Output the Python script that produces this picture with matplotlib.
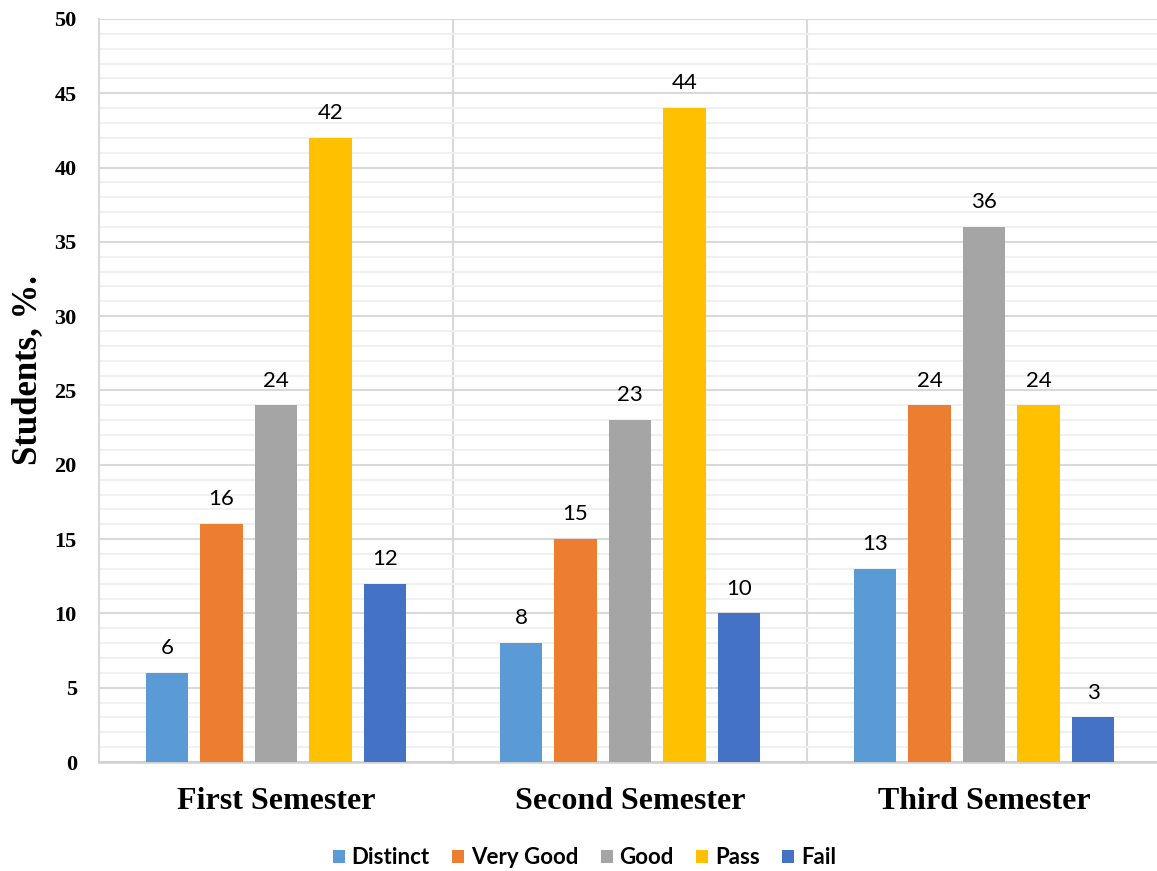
import numpy as np
import matplotlib.pyplot as plt
from matplotlib.ticker import MultipleLocator

semesters = ["First Semester", "Second Semester", "Third Semester"]
grades = ["Distinct", "Very Good", "Good", "Pass", "Fail"]
distinct = [6, 8, 13]
very_good = [16, 15, 24]
good = [24, 23, 36]
pass_ = [42, 44, 24]
fail = [12, 10, 3]
series = [distinct, very_good, good, pass_, fail]
colors = ["#5B9BD5", "#ED7D31", "#A5A5A5", "#FFC000", "#4472C4"]

serif = "Liberation Serif"
sans = "Lato"

fig = plt.figure(figsize=(11.57, 8.71), dpi=100)
ax = fig.add_axes([99/1157, 109/871, 1062/1157, 743/871])

x = np.arange(len(semesters))
step = 0.154
width = 0.121
for i, (vals, name, c) in enumerate(zip(series, grades, colors)):
    pos = x + (i - 2) * step
    bars = ax.bar(pos, vals, width, color=c, label=name, zorder=3)
    for b, v in zip(bars, vals):
        ax.annotate("%d" % v, (b.get_x() + b.get_width()/2, v),
                    xytext=(0, 13.5), textcoords="offset points",
                    ha="center", va="baseline", fontsize=16, family=sans)

ax.set_xlim(-0.5, 2.5)
ax.set_ylim(0, 50)
ax.yaxis.set_major_locator(MultipleLocator(5))
ax.yaxis.set_minor_locator(MultipleLocator(1))
ax.grid(which="major", axis="y", color="#D9D9D9", linewidth=1.5, zorder=0)
ax.grid(which="minor", axis="y", color="#F0F0F0", linewidth=1.5, zorder=0)
for sep in [0.5, 1.5]:
    ax.axvline(sep, color="#D9D9D9", linewidth=1.5, zorder=1)

for s in ["top", "right"]:
    ax.spines[s].set_visible(False)
ax.spines["left"].set_color("#D9D9D9")
ax.spines["left"].set_linewidth(1.5)
ax.spines["bottom"].set_color("#D0D0D0")
ax.spines["bottom"].set_linewidth(1.8)

ax.set_xticks(x)
ax.set_xticklabels(semesters, family=serif, fontweight="bold", fontsize=23)
ax.tick_params(axis="x", length=0, pad=18)
ax.tick_params(axis="y", which="both", length=0, pad=16)
for lab in ax.get_yticklabels():
    lab.set_family(serif)
    lab.set_fontweight("bold")
    lab.set_fontsize(16)

ax.set_ylabel("Students, %.", family=serif, fontweight="bold", fontsize=25)
ax.yaxis.set_label_coords(-0.0515, 0.527)

fig.legend(loc="lower center", bbox_to_anchor=(0.505, -0.02), ncol=5, frameon=False,
           prop={"family": sans, "weight": "bold", "size": 16},
           handlelength=0.55, handleheight=0.55, handletextpad=0.3, columnspacing=1.0)

plt.savefig("out.png", dpi=100)
